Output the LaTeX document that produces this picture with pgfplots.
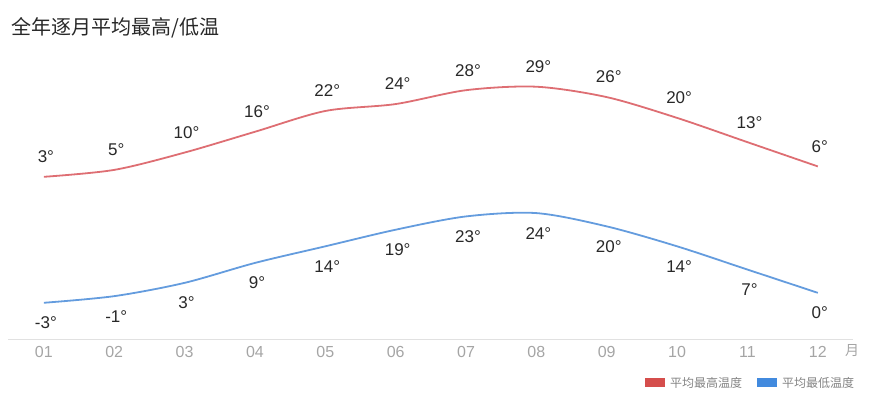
\documentclass[border=0pt]{standalone}
\usepackage{pgfplots}
\pgfplotsset{compat=1.18}
\usepackage{fontspec}
\setmainfont{Liberation Sans}
\newfontfamily\cjk{Noto Sans CJK SC}
\definecolor{hiline}{RGB}{222,110,115}
\definecolor{loline}{RGB}{100,156,222}
\definecolor{hileg}{RGB}{213,78,76}
\definecolor{loleg}{RGB}{66,138,222}
\definecolor{lbl}{RGB}{40,40,40}
\definecolor{tickc}{RGB}{165,165,165}
\definecolor{axc}{RGB}{225,225,225}
\begin{document}
\begin{tikzpicture}[x=1pt,y=1pt]
\useasboundingbox (0,0) rectangle (871,396);
% high temperatures
\begin{axis}[at={(8pt,57pt)}, anchor=south west, scale only axis,
  width=845pt, height=289pt,
  xmin=0.49, xmax=12.5, ymin=-43.8, ymax=39.6,
  axis x line=bottom, axis y line=none,
  x axis line style={draw=axc, line width=0.8pt, -},
  xtick={1,...,12},
  xticklabels={01,02,03,04,05,06,07,08,09,10,11,12},
  major tick length=0pt,
  xticklabel style={text=tickc, font=\fontsize{16}{18}\selectfont, yshift=-4pt},
  ytick=\empty,
  clip=false,
  nodes near coords={\pgfmathprintnumber[assume math mode=true]{\pgfplotspointmeta}°},
  every node near coord/.append style={anchor=center, yshift=20pt, text=lbl, font=\fontsize{17}{20}\selectfont, xshift=2pt},
]
\addplot[hiline, line width=1.8pt, smooth, no markers] coordinates {
(1,3) (2,5) (3,10) (4,16) (5,22) (6,24) (7,28) (8,29) (9,26) (10,20) (11,13) (12,6)};
\end{axis}
% low temperatures
\begin{axis}[at={(8pt,57pt)}, anchor=south west, scale only axis,
  width=845pt, height=289pt,
  xmin=0.49, xmax=12.5, ymin=-13.9, ymax=73.1,
  hide axis,
  clip=false,
  nodes near coords={\pgfmathprintnumber[assume math mode=true]{\pgfplotspointmeta}°},
  every node near coord/.append style={anchor=center, yshift=-20pt, text=lbl, font=\fontsize{17}{20}\selectfont, xshift=2pt},
]
\addplot[loline, line width=1.8pt, smooth, no markers] coordinates {
(1,-3) (2,-1) (3,3) (4,9) (5,14) (6,19) (7,23) (8,24) (9,20) (10,14) (11,7) (12,0)};
\end{axis}
% title
\node[anchor=west, inner sep=0pt, text=lbl] at (11,368) {\cjk\fontsize{20}{22}\selectfont 全年逐月平均最高/低温};
% x unit
\node[anchor=center, inner sep=0pt, text=tickc] at (852,45) {\cjk\fontsize{14}{16}\selectfont 月};
% legend
\fill[hileg] (645,9) rectangle (665,18);
\node[anchor=west, inner sep=0pt, text=tickc!80!black] at (670,13.5) {\cjk\fontsize{12}{14}\selectfont 平均最高温度};
\fill[loleg] (757,9) rectangle (777,18);
\node[anchor=west, inner sep=0pt, text=tickc!80!black] at (782,13.5) {\cjk\fontsize{12}{14}\selectfont 平均最低温度};
\end{tikzpicture}
\end{document}
